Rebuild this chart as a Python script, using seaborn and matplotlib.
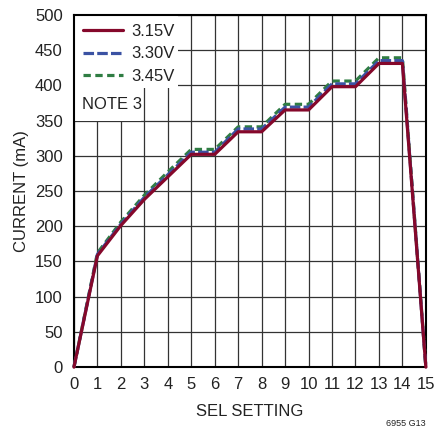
"""
SEL setting vs supply current chart (6955 G13)
"""

import numpy as np
import pandas as pd
import matplotlib
matplotlib.use('Agg')
import matplotlib.pyplot as plt
from matplotlib.patches import Rectangle
import seaborn as sns

# Data
sel_setting = list(range(16))
current_315 = [0, 158, 201, 238, 270, 302, 302, 334, 334, 365, 365, 398, 398, 431, 431, 0]
current_330 = [0, 160, 203, 241, 273, 305, 305, 338, 338, 369, 369, 402, 402, 435, 435, 0]
current_345 = [0, 162, 206, 244, 277, 309, 309, 341, 341, 373, 373, 406, 406, 439, 439, 0]
series_labels = ['3.15V', '3.30V', '3.45V']

x_ticks = list(range(16))
y_ticks = list(range(0, 501, 50))

sns.set_style("white")
plt.rcParams['font.family'] = ['Liberation Sans', 'DejaVu Sans']

fig = plt.figure(figsize=(4.35, 4.36), dpi=100)
ax = fig.add_axes([0.170, 0.158, 0.809, 0.808])

df = pd.DataFrame({
    'SEL': sel_setting * 3,
    'Current': current_315 + current_330 + current_345,
    'Supply': [series_labels[0]] * 16 + [series_labels[1]] * 16 + [series_labels[2]] * 16,
})

styles = {
    '3.15V': dict(color='#85082B', dashes=(None, None), z=5),
    '3.30V': dict(color='#3B52A3', dashes=(3.3, 1.0), z=4),
    '3.45V': dict(color='#2F7D43', dashes=(2.3, 1.4), z=3),
}

handles = {}
for label in series_labels[::-1]:
    sub = df[df['Supply'] == label]
    st = styles[label]
    sns.lineplot(data=sub, x='SEL', y='Current', ax=ax, color=st['color'],
                 linewidth=2.3, zorder=st['z'], legend=False)
    line = ax.lines[-1]
    if st['dashes'][0] is not None:
        line.set_dashes(st['dashes'])
    line.set_clip_on(False)
    handles[label] = line

ax.set_xlim(0, 15)
ax.set_ylim(0, 500)
ax.set_xticks(x_ticks)
ax.set_yticks(y_ticks)
ax.tick_params(axis='both', length=0, labelsize=12, colors='#222222')
ax.tick_params(axis='x', pad=7)
ax.tick_params(axis='y', pad=8)
ax.grid(True, color='#333333', linewidth=0.9)
ax.set_axisbelow(True)
for sp in ax.spines.values():
    sp.set_color('black')
    sp.set_linewidth(1.5)
    sp.set_visible(True)

ax.set_xlabel('SEL SETTING', fontsize=12, color='#222222', labelpad=9)
ax.set_ylabel('CURRENT (mA)', fontsize=12, color='#222222', labelpad=4)

# white boxes behind legend and note
ax.add_patch(Rectangle((0, 0.793), 0.295, 0.207, transform=ax.transAxes,
                       facecolor='white', edgecolor='none', zorder=2))
ax.add_patch(Rectangle((0, 0.70), 0.19, 0.093, transform=ax.transAxes,
                       facecolor='white', edgecolor='none', zorder=2))

leg = ax.legend([handles[l] for l in series_labels], series_labels,
                loc='upper left', bbox_to_anchor=(0.0, 1.0), frameon=False,
                fontsize=12, handlelength=2.4, handletextpad=0.5,
                labelspacing=0.45, borderaxespad=0.15)
for t in leg.get_texts():
    t.set_color('#222222')

ax.text(0.023, 0.745, 'NOTE 3', transform=ax.transAxes, fontsize=12,
        color='#222222', va='center', ha='left', zorder=6)

fig.text(0.979, 0.018, '6955 G13', fontsize=6.5, color='#222222', ha='right', va='bottom')

fig.savefig('out.png', dpi=100)
plt.close(fig)
